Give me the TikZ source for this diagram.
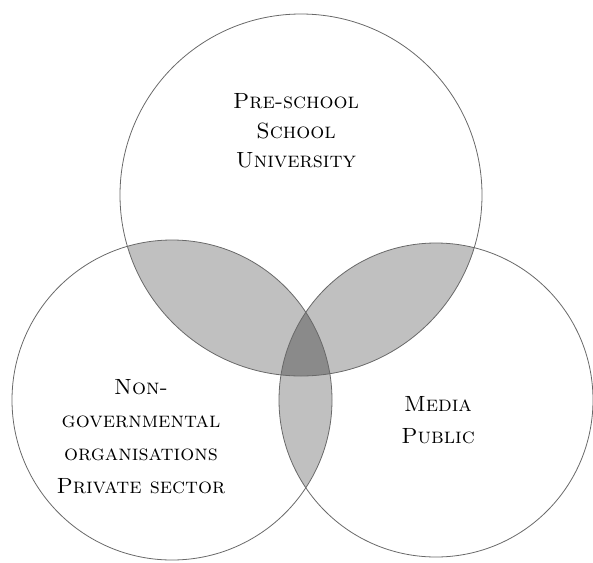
\documentclass[tikz,border=0pt]{standalone}
\usepackage{fontspec}
\usetikzlibrary{positioning}

\definecolor{lensgray}{RGB}{192,192,192}
\definecolor{coregray}{RGB}{138,138,138}
\definecolor{rimgray}{RGB}{105,105,105}

\begin{document}
\begin{tikzpicture}[x=1pt,y=-1pt,
    set/.style={circle, draw=rimgray, line width=0.8pt, minimum size=#1, inner sep=0pt},
    set text/.style={font=\fontsize{22}{#1}\selectfont\scshape, align=center, text=black}]
  \useasboundingbox (0,0) rectangle (593,562);

  \coordinate (cs) at (301,195);
  \coordinate (cn) at (172,400);
  \coordinate (cm) at (436,400);

  % two-way overlaps
  \begin{scope}
    \clip (cs) circle (181pt);
    \fill[lensgray] (cn) circle (160pt);
    \fill[lensgray] (cm) circle (157pt);
  \end{scope}
  \begin{scope}
    \clip (cn) circle (160pt);
    \fill[lensgray] (cm) circle (157pt);
  \end{scope}
  % three-way overlap
  \begin{scope}
    \clip (cs) circle (181pt);
    \clip (cn) circle (160pt);
    \fill[coregray] (cm) circle (157pt);
  \end{scope}

  \node[set=362pt] (school) at (cs) {};
  \node[set=320pt] (ngo) at (cn) {};
  \node[set=314pt] (media) at (cm) {};

  \node[set text=29.5pt] (schooltext) at (296,131) {Pre-school\\School\\University};
  \node[set text=33pt] (ngotext) at (141,437) {Non-\\governmental\\organisations\\Private sector};
  \node[set text=32pt] (mediatext) at (438,420) {Media\\Public};
\end{tikzpicture}
\end{document}
